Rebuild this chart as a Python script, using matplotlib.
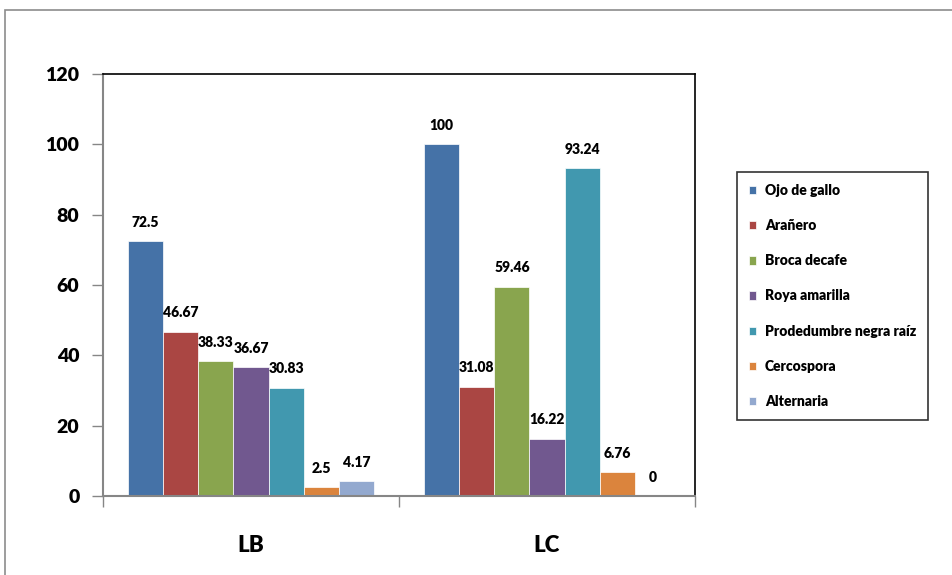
import matplotlib
matplotlib.use("Agg")
import matplotlib.pyplot as plt
from matplotlib.patches import Rectangle
import numpy as np

plt.rcParams['font.family'] = ['Lato', 'DejaVu Sans']
plt.rcParams['font.weight'] = 'heavy'

groups = ["LB", "LC"]
series = ["Ojo de gallo", "Arañero", "Broca decafe", "Roya amarilla",
          "Prodedumbre negra raíz", "Cercospora", "Alternaria"]
lb_values = [72.5, 46.67, 38.33, 36.67, 30.83, 2.5, 4.17]
lc_values = [100, 31.08, 59.46, 16.22, 93.24, 6.76, 0]
colors = ["#4572A7", "#AA4643", "#89A54E", "#71588F", "#4198AF", "#DB843D", "#93A9CF"]
y_ticks = [0, 20, 40, 60, 80, 100, 120]

fig = plt.figure(figsize=(9.53, 5.75), dpi=100)
fig.patches.append(Rectangle((5 / 953, -0.05), 1.2, 1 - 10 / 575 + 0.05,
                             transform=fig.transFigure, fill=False,
                             edgecolor="#8c8c8c", linewidth=1.2))

ax = fig.add_axes([103 / 953, 1 - 496 / 575, (695 - 103) / 953, (496 - 74) / 575])

n = len(series)
width = 0.83 / n
x = np.arange(len(groups))
for i, name in enumerate(series):
    vals = [lb_values[i], lc_values[i]]
    pos = x - 0.415 + width * (i + 0.5)
    bars = ax.bar(pos, vals, width, color=colors[i], edgecolor="white",
                  linewidth=0.5, label=name)
    for b, v in zip(bars, vals):
        ax.annotate(f"{v:g}", (b.get_x() + b.get_width() / 2, v),
                    xytext=(0, 9), textcoords="offset points",
                    ha="center", va="bottom", fontsize=10, fontweight="heavy")

ax.set_xlim(-0.5, 1.5)
ax.set_ylim(0, 120)
ax.set_yticks(y_ticks)
ax.set_yticklabels([str(t) for t in y_ticks], fontsize=14, fontweight="heavy")
ax.tick_params(axis="y", direction="out", length=8, width=1, color="#868686", pad=9)

ax.set_xticks([-0.5, 0.5, 1.5])
ax.set_xticklabels([])
ax.tick_params(axis="x", which="major", direction="out", length=8, width=1, color="#868686")
ax.set_xticks(x, minor=True)
ax.set_xticklabels(groups, minor=True, fontsize=16, fontweight="heavy")
ax.tick_params(axis="x", which="minor", length=0, pad=28)

for s in ("left", "bottom"):
    ax.spines[s].set_color("#868686")
    ax.spines[s].set_linewidth(1.5)
for s in ("top", "right"):
    ax.spines[s].set_color("black")
    ax.spines[s].set_linewidth(1.2)

leg = fig.legend(loc="upper left",
                 bbox_to_anchor=(737 / 953, 1 - 172 / 575),
                 frameon=True, fancybox=False, fontsize=10,
                 handlelength=0.55, handleheight=0.55, handletextpad=0.6,
                 labelspacing=1.6, borderpad=0.85, borderaxespad=0)
leg.get_frame().set_edgecolor("black")
leg.get_frame().set_linewidth(1.2)
for t in leg.get_texts():
    t.set_fontweight("heavy")

fig.savefig("out.png", dpi=100)
